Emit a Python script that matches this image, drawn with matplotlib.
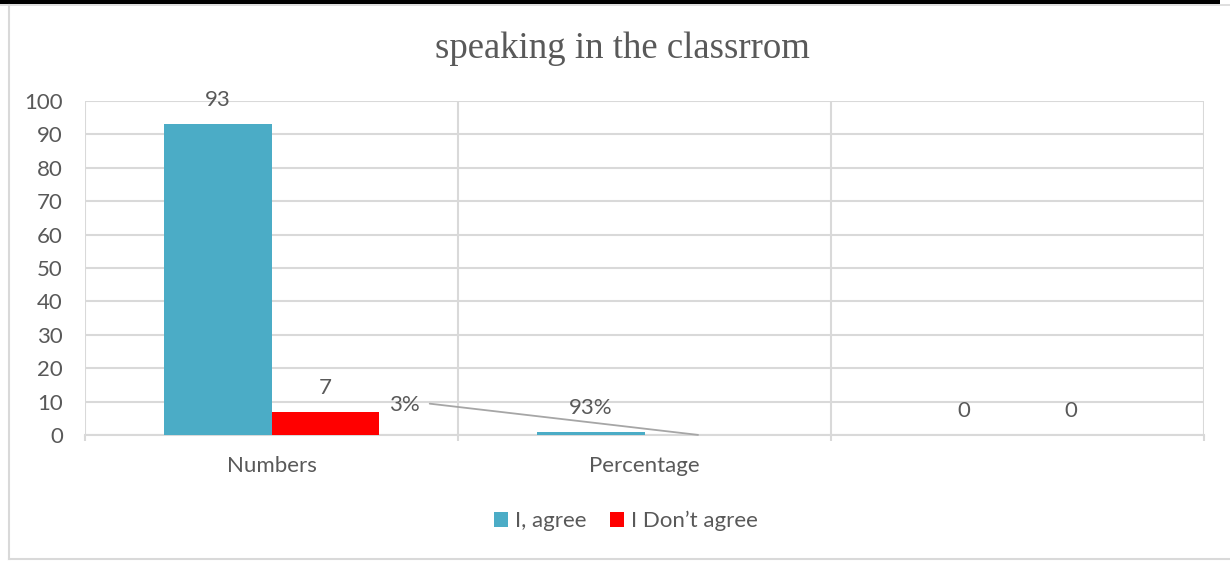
import matplotlib
matplotlib.use("Agg")
import matplotlib.pyplot as plt
from matplotlib.lines import Line2D
from matplotlib.patches import Rectangle, Patch
import numpy as np

# Survey results: "speaking in the classroom"
categories = ["Numbers", "Percentage", ""]
agree_values = [93, 0.93, 0]
disagree_values = [7, 0.03, 0]
agree_labels = ["93", "93%", "0"]
disagree_labels = ["7", "3%", "0"]
y_ticks = [0, 10, 20, 30, 40, 50, 60, 70, 80, 90, 100]
series_names = ["I, agree", "I Don\u2019t agree"]
title = "speaking in the classrrom"

AGREE_COLOR = "#4BACC6"
DISAGREE_COLOR = "#FF0000"
TEXT_COLOR = "#595959"
GRID_COLOR = "#D9D9D9"
FS = 16

plt.rcParams["font.family"] = ["Lato", "DejaVu Sans"]

W, H = 1230, 562
fig = plt.figure(figsize=(W / 100, H / 100), dpi=100)
fig.patch.set_facecolor("white")

# Page frame: black rule at top and light border round the chart
fig.add_artist(Rectangle((0, 1 - 3.5 / H), 1220 / W, 3.5 / H, transform=fig.transFigure,
                         facecolor="black", edgecolor="none"))
fig.add_artist(Line2D([8.5 / W, 8.5 / W], [1 - 5 / H, 1 - 558.5 / H], transform=fig.transFigure,
                      color=GRID_COLOR, lw=1.5))
fig.add_artist(Line2D([8.5 / W, 1.0], [1 - 558.5 / H, 1 - 558.5 / H], transform=fig.transFigure,
                      color=GRID_COLOR, lw=1.5))
fig.add_artist(Line2D([0, 1.0], [1 - 4.8 / H, 1 - 4.8 / H], transform=fig.transFigure,
                      color=GRID_COLOR, lw=1.2, zorder=0))

left, right, bottom, top = 85 / W, 1204 / W, 1 - 435 / H, 1 - 101 / H
ax = fig.add_axes([left, bottom, right - left, top - bottom])

x = np.arange(len(categories))
width = 0.287
bars_a = ax.bar(x - width / 2, agree_values, width, color=AGREE_COLOR, label=series_names[0], zorder=3)
bars_d = ax.bar(x + width / 2, disagree_values, width, color=DISAGREE_COLOR, label=series_names[1], zorder=3)

ax.set_xlim(-0.5, len(categories) - 0.5)
ax.set_ylim(0, 100)
ax.set_yticks(y_ticks)
ax.set_xticks(x)
ax.set_xticklabels(categories)
ax.set_xticks(np.arange(len(categories) + 1) - 0.5, minor=True)

ax.grid(axis="y", color=GRID_COLOR, lw=1.5, zorder=0)
ax.grid(axis="x", which="minor", color=GRID_COLOR, lw=1.5, zorder=0)
for s in ["top", "right", "left"]:
    ax.spines[s].set_visible(False)
ax.spines["bottom"].set_color(GRID_COLOR)
ax.spines["bottom"].set_linewidth(1.5)

ax.tick_params(axis="y", length=0, pad=16, labelsize=FS, labelcolor=TEXT_COLOR)
ax.tick_params(axis="x", which="major", length=0, pad=15, labelsize=FS, labelcolor=TEXT_COLOR)
ax.tick_params(axis="x", which="minor", length=4.5, width=1.5, color=GRID_COLOR)

off = 24 * 72 / 100
for b, lab in zip(bars_a, agree_labels):
    ax.annotate(lab, (b.get_x() + b.get_width() / 2, b.get_height()), xytext=(0, off),
                textcoords="offset points", ha="center", va="center",
                fontsize=FS, color=TEXT_COLOR)
for i, (b, lab) in enumerate(zip(bars_d, disagree_labels)):
    bx = b.get_x() + b.get_width() / 2
    if i == 1:
        # small value: label moved aside with a leader line
        ax.annotate(lab, (bx, b.get_height()), xytext=(0.357, 9.0), textcoords="data",
                    ha="center", va="center", fontsize=FS, color=TEXT_COLOR,
                    arrowprops=dict(arrowstyle="-", color="#A6A6A6", lw=1.3,
                                    shrinkA=5, shrinkB=0, relpos=(1.0, 0.62)),
                    annotation_clip=False, zorder=4)
    else:
        ax.annotate(lab, (bx, b.get_height()), xytext=(0, off),
                    textcoords="offset points", ha="center", va="center",
                    fontsize=FS, color=TEXT_COLOR)

fig.text(622 / W, 1 - 49 / H, title, ha="center", va="center", fontsize=26.5,
         family="Liberation Serif", color=TEXT_COLOR)

handles = [Patch(facecolor=AGREE_COLOR), Patch(facecolor=DISAGREE_COLOR)]
fig.legend(handles, series_names, loc="center", bbox_to_anchor=(626 / W, 1 - 521 / H), ncol=2,
           frameon=False, fontsize=FS, labelcolor=TEXT_COLOR, handlelength=0.63,
           handleheight=0.63, handletextpad=0.32, columnspacing=1.08)

fig.savefig("out.png", dpi=100)
